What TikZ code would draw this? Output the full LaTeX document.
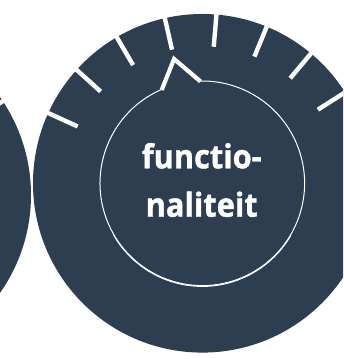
\documentclass[tikz,border=0pt]{standalone}
\usepackage{fontspec}
\setmainfont{Open Sans}[BoldFeatures={FakeBold=1.2}]
\definecolor{slate}{HTML}{2C3E50}
\newsavebox{\lineboxa}
\newsavebox{\lineboxb}
\begin{document}
\sbox{\lineboxa}{\color{white}\bfseries\fontsize{33}{33}\selectfont functio-}%
\sbox{\lineboxb}{\color{white}\bfseries\fontsize{33}{33}\selectfont naliteit}%
\pgfmathsetmacro{\hsc}{120/\the\wd\lineboxa}%
\begin{tikzpicture}[x=1pt,y=1pt,
  tickline/.style={white,line width=4.4pt},
  label/.style={text=white,anchor=base,inner sep=0pt}]
\useasboundingbox (0,0) rectangle (343,359);
\clip (0,0) rectangle (343,359);
% left gauge
\fill[slate] (-139,164) circle[radius=170pt];
\begin{scope}[shift={(-139,164)}]
  \foreach \a in {33.5} \draw[tickline] (\a:138) -- (\a:175);
\end{scope}
% main gauge
\fill[slate] (202.3,175.7) circle[radius=169.3pt];
\begin{scope}[shift={(202.3,175.7)}]
  \foreach \k in {0,...,7}{
    \pgfmathsetmacro{\a}{32.5+17.57*\k}
    \draw[tickline] (\a:137) -- (\a:175);
  }
  \draw[white,line width=1pt] (113:102.3) arc[start angle=113,end angle=451,radius=102.3pt];
  \draw[white,line width=1pt,shift={(0,-0.8)}] (210:102.3) arc[start angle=210,end angle=330,radius=102.3pt];
  \draw[white,line width=4.2pt,line join=miter] (113.5:101.8) -- (102.8:127.5) -- (91:101.8);
\end{scope}
\node[label] (t1) at (201.7,190.7) {\scalebox{\hsc}[1]{\usebox{\lineboxa}}};
\node[label] (t2) at (201.7,142.3) {\scalebox{\hsc}[1]{\usebox{\lineboxb}}};
\end{tikzpicture}
\end{document}
